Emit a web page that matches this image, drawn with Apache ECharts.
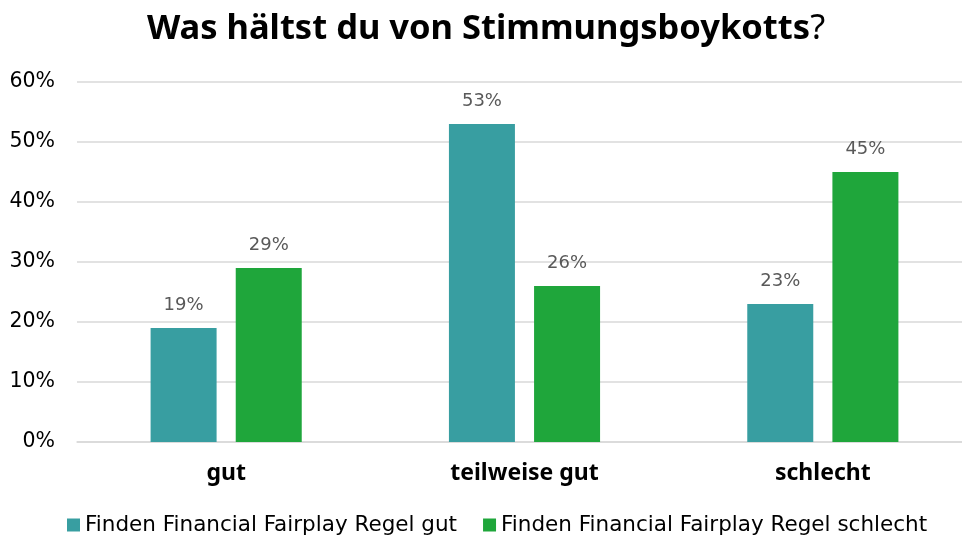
<!DOCTYPE html>
<html>
<head>
<meta charset="utf-8">
<script src="https://cdn.jsdelivr.net/npm/echarts@6/dist/echarts.min.js"></script>
<style>
  html, body { margin: 0; padding: 0; background: #fff; overflow: hidden; }
  #chart { width: 972px; height: 535px; }
</style>
</head>
<body>
<div id="chart"></div>
<script>
// Survey answers per category
const categories = ['gut', 'teilweise gut', 'schlecht'];
const seriesNames = ['Finden Financial Fairplay Regel gut', 'Finden Financial Fairplay Regel schlecht'];
const ffpGood = [19, 53, 23];
const ffpBad = [29, 26, 45];
const yTicks = [0, 10, 20, 30, 40, 50, 60];

const HEAD_FONT = '"Noto Sans", sans-serif';
const BODY_FONT = '"DejaVu Sans", sans-serif';
const colors = ['#389ea1', '#1fa63b'];

const chart = echarts.init(document.getElementById('chart'), null, { renderer: 'canvas' });

const labelStyle = {
  show: true,
  position: 'top',
  distance: 14,
  formatter: p => p.value + '%',
  color: '#595959',
  fontSize: 18,
  fontFamily: BODY_FONT
};

chart.setOption({
  animation: false,
  title: {
    text: '{b|Was hältst du von Stimmungsboykotts}{n|?}',
    left: 'center',
    top: 7,
    textStyle: {
      rich: {
        b: { fontSize: 34.5, fontWeight: 'bold', color: '#000', fontFamily: HEAD_FONT },
        n: { fontSize: 34.5, fontWeight: 'normal', color: '#000', fontFamily: HEAD_FONT }
      }
    }
  },
  legend: {
    top: 509,
    left: 62,
    itemWidth: 13,
    itemHeight: 13,
    itemGap: 26,
    icon: 'rect',
    textStyle: { fontSize: 21.5, color: '#000', fontFamily: BODY_FONT },
    data: seriesNames
  },
  grid: {
    left: 77,
    top: 82,
    width: 895,
    height: 360,
    containLabel: false
  },
  xAxis: {
    type: 'category',
    data: categories,
    axisLine: { show: true, lineStyle: { color: '#d9d9d9', width: 1.5 } },
    axisTick: { show: false },
    axisLabel: {
      margin: 20,
      color: '#000',
      fontSize: 23,
      fontWeight: 'bold',
      fontFamily: HEAD_FONT
    }
  },
  yAxis: {
    type: 'value',
    min: yTicks[0],
    max: yTicks[yTicks.length - 1],
    interval: 10,
    axisLine: { show: false },
    axisTick: { show: false },
    axisLabel: {
      margin: 22,
      formatter: v => v + '%',
      color: '#000',
      fontSize: 20.5,
      fontFamily: BODY_FONT
    },
    splitLine: { lineStyle: { color: '#d9d9d9', width: 1.5 } }
  },
  series: [
    {
      name: seriesNames[0],
      type: 'bar',
      data: ffpGood,
      barWidth: 66,
      barGap: '29%',
      itemStyle: { color: colors[0] },
      label: labelStyle
    },
    {
      name: seriesNames[1],
      type: 'bar',
      data: ffpBad,
      barWidth: 66,
      barGap: '29%',
      itemStyle: { color: colors[1] },
      label: labelStyle
    }
  ]
});
</script>
</body>
</html>
